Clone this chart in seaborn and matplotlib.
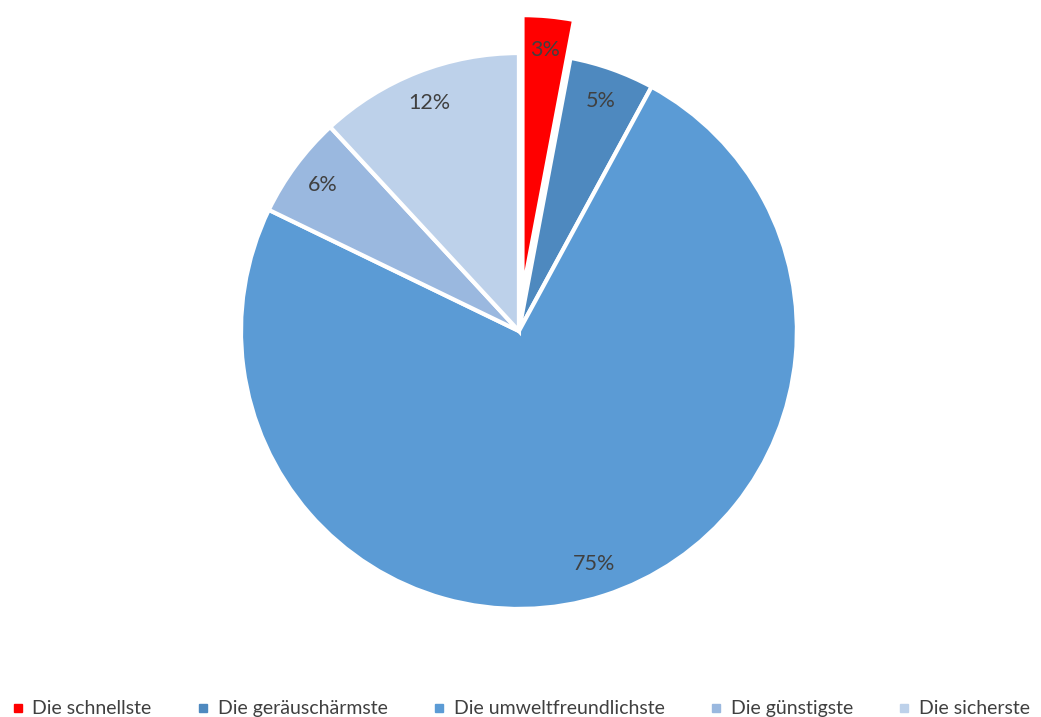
import matplotlib
matplotlib.use("Agg")
import matplotlib.pyplot as plt
from matplotlib.lines import Line2D
import seaborn as sns

categories = ["Die schnellste", "Die geräuschärmste", "Die umweltfreundlichste",
              "Die günstigste", "Die sicherste"]
values = [3, 5, 75, 6, 12]
colors = ["#FF0000", "#4E89BF", "#5B9BD5", "#9AB8DF", "#BDD1EA"]
explode = [0.137, 0, 0, 0, 0]

sns.set_theme(style="white")
plt.rcParams["font.family"] = ["Lato", "DejaVu Sans"]

fig = plt.figure(figsize=(10.41, 7.17), dpi=100)
ax = fig.add_axes([0.2315, 0.1506, 0.534, 0.7755])

wedges, texts, autotexts = ax.pie(
    values,
    colors=colors,
    explode=explode,
    startangle=90,
    counterclock=False,
    autopct="%d%%",
    pctdistance=0.88,
    wedgeprops=dict(edgecolor="white", linewidth=3),
    textprops=dict(color="#404040", fontsize=15.5),
)
# percentages show the stored values directly
for t, v in zip(autotexts, values):
    t.set_text(f"{v}%")
for w in wedges:
    w.set_clip_on(False)

ax.set_xlim(-1, 1)
ax.set_ylim(-1, 1)
ax.set_aspect("equal")
ax.axis("off")

handles = [Line2D([0], [0], marker="s", linestyle="none", markersize=6,
                  markerfacecolor=c, markeredgecolor=c) for c in colors]
fig.legend(handles, categories, loc="lower center", ncol=5, frameon=False,
           bbox_to_anchor=(0.5, -0.025), fontsize=14, labelcolor="#404040",
           handlelength=0.7, handletextpad=0.4, columnspacing=2.3)

fig.savefig("out.png", dpi=100)
